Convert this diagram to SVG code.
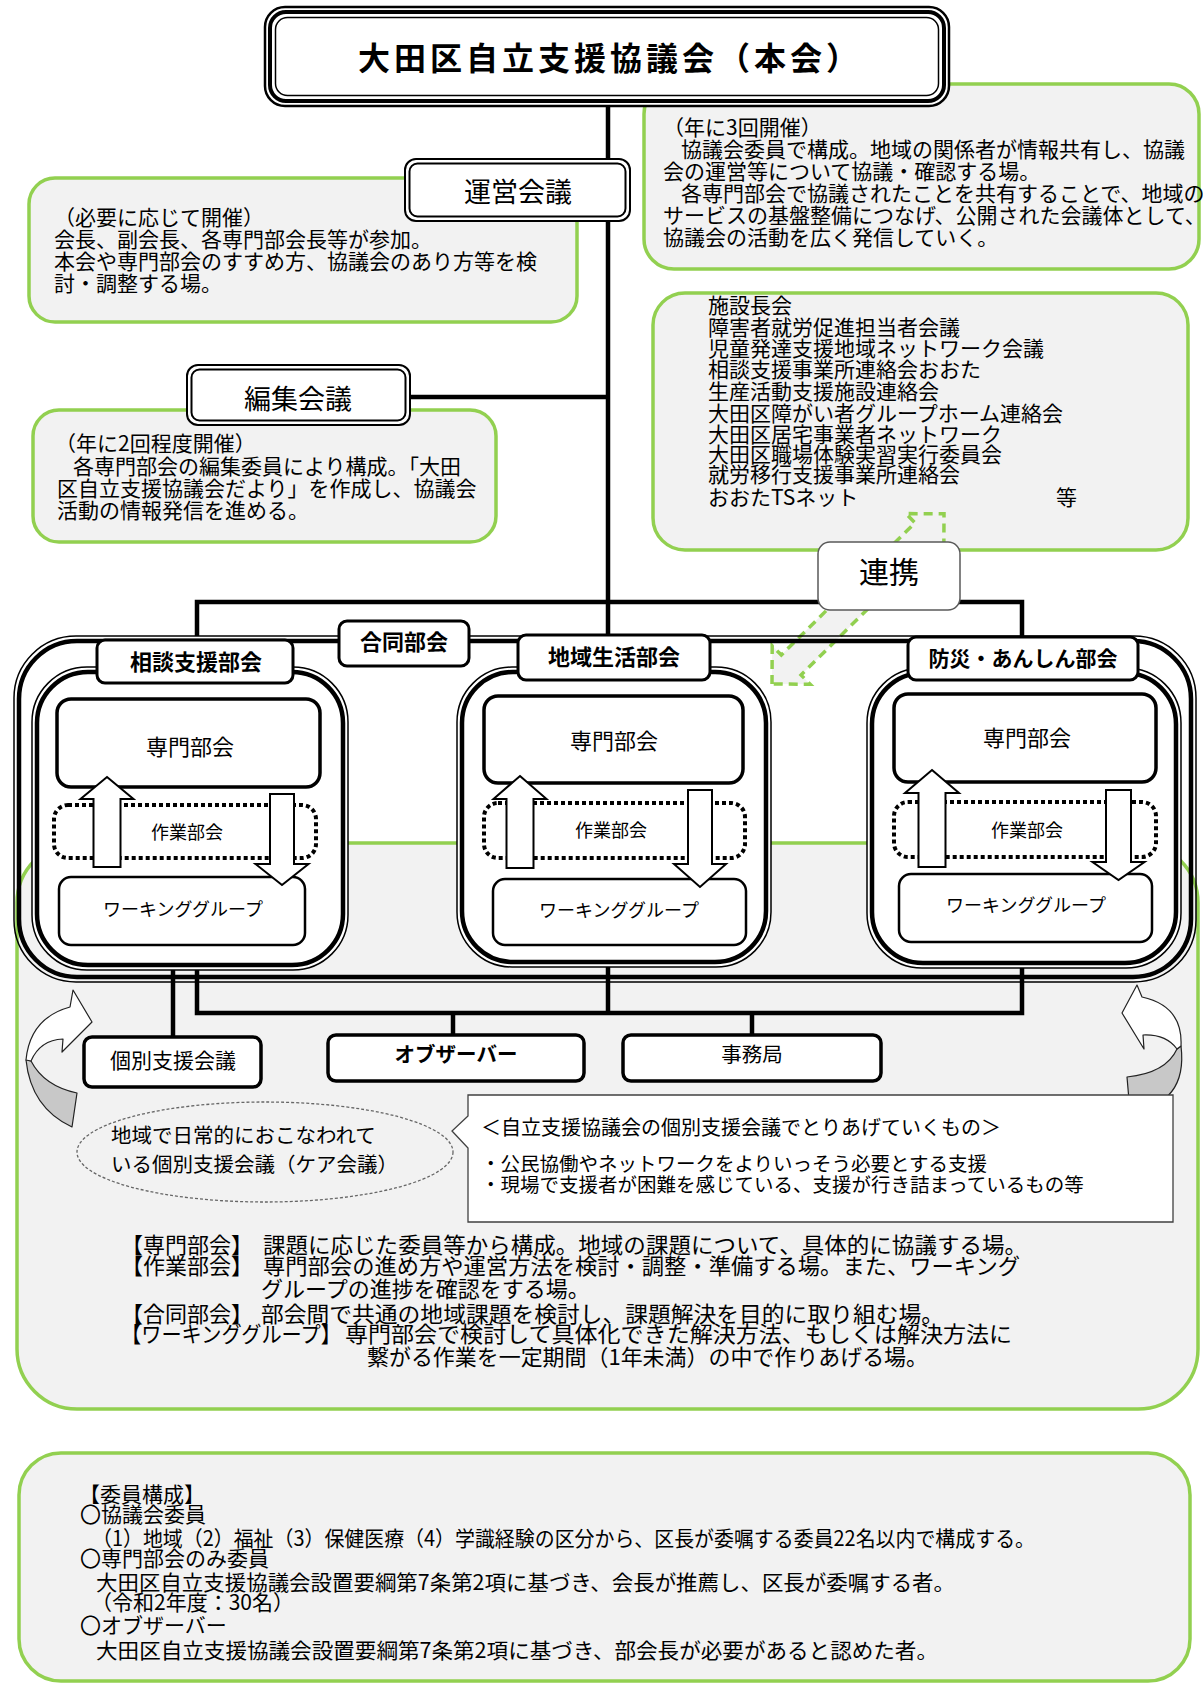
<svg xmlns="http://www.w3.org/2000/svg" width="1203" height="1684" viewBox="0 0 1203 1684">
<style>
.g{fill:#f2f2f2;stroke:#92d050;stroke-width:3.5}
.t{font-family:"Noto Sans CJK JP","Noto Sans CJK SC",sans-serif;fill:#000}
.b{font-weight:bold}
.m{text-anchor:middle}
.ln{stroke:#000;stroke-width:4.5;fill:none}
.w{fill:#fff;stroke:#000}
.thin{fill:none;stroke:#000;stroke-width:1.5}
.thick{fill:none;stroke:#000;stroke-width:4.5}
.arr{fill:#fff;stroke:#000;stroke-width:2;stroke-linejoin:miter}
.dot{fill:none;stroke:#000;stroke-width:4;stroke-dasharray:4 3}
</style>
<rect width="1203" height="1684" fill="#fff"/>

<!-- background green panels -->
<g id="panel-lower"><rect class="g" x="17" y="843" width="1181" height="566" rx="60"/></g>
<g id="panel-members">
<rect class="g" x="19" y="1453" width="1171" height="228" rx="42"/>
<text class="t" font-size="21" x="79" y="1502">【委員構成】</text>
<text class="t" font-size="21" x="80" y="1522">〇協議会委員</text>
<text class="t" font-size="21" x="92" y="1546" textLength="943" lengthAdjust="spacingAndGlyphs">（1）地域（2）福祉（3）保健医療（4）学識経験の区分から、区長が委嘱する委員22名以内で構成する。</text>
<text class="t" font-size="21" x="80" y="1566">〇専門部会のみ委員</text>
<text class="t" font-size="21" x="96" y="1590" textLength="859" lengthAdjust="spacingAndGlyphs">大田区自立支援協議会設置要綱第7条第2項に基づき、会長が推薦し、区長が委嘱する者。</text>
<text class="t" font-size="21" x="91" y="1610">（令和2年度：30名）</text>
<text class="t" font-size="21" x="80" y="1633">〇オブザーバー</text>
<text class="t" font-size="21" x="96" y="1658" textLength="842" lengthAdjust="spacingAndGlyphs">大田区自立支援協議会設置要綱第7条第2項に基づき、部会長が必要があると認めた者。</text>
</g>

<!-- connectors -->
<g id="connectors">
<path class="ln" d="M608,106 V635"/>
<path class="ln" d="M409,397 H608"/>
<path class="ln" d="M197,636 V602 H1022 V637"/>
<path class="ln" d="M173,968 V1037"/>
<path class="ln" d="M197,968 V1013 H1022 V966"/>
<path class="ln" d="M608,965 V1013"/>
<path class="ln" d="M453,1013 V1035"/>
<path class="ln" d="M752,1013 V1035"/>
</g>

<!-- description boxes -->
<g id="desc-honkai">
<rect class="g" x="644" y="84" width="555" height="185" rx="30"/>
<text class="t" font-size="21" x="663" y="135">（年に3回開催）</text>
<text class="t" font-size="21" x="681" y="157">協議会委員で構成。地域の関係者が情報共有し、協議</text>
<text class="t" font-size="21" x="663" y="179">会の運営等について協議・確認する場。</text>
<text class="t" font-size="21" x="681" y="201">各専門部会で協議されたことを共有することで、地域の</text>
<text class="t" font-size="21" x="663" y="223">サービスの基盤整備につなげ、公開された会議体として、</text>
<text class="t" font-size="21" x="663" y="245">協議会の活動を広く発信していく。</text>
</g>
<g id="desc-unei">
<rect class="g" x="29" y="178" width="548" height="144" rx="26"/>
<text class="t" font-size="21" x="54" y="225">（必要に応じて開催）</text>
<text class="t" font-size="21" x="54" y="247">会長、副会長、各専門部会長等が参加。</text>
<text class="t" font-size="21" x="54" y="269">本会や専門部会のすすめ方、協議会のあり方等を検</text>
<text class="t" font-size="21" x="54" y="291">討・調整する場。</text>
</g>
<g id="desc-henshu">
<rect class="g" x="33" y="410" width="463" height="132" rx="26"/>
<text class="t" font-size="21" x="55" y="451">（年に2回程度開催）</text>
<text class="t" font-size="21" x="73" y="474">各専門部会の編集委員により構成。「大田</text>
<text class="t" font-size="21" x="57" y="496">区自立支援協議会だより」を作成し、協議会</text>
<text class="t" font-size="21" x="57" y="518">活動の情報発信を進める。</text>
</g>
<g id="desc-list">
<rect class="g" x="653" y="293" width="535" height="257" rx="32"/>
<text class="t" font-size="21" x="708" y="313">施設長会</text>
<text class="t" font-size="21" x="708" y="335">障害者就労促進担当者会議</text>
<text class="t" font-size="21" x="708" y="356">児童発達支援地域ネットワーク会議</text>
<text class="t" font-size="21" x="708" y="377">相談支援事業所連絡会おおた</text>
<text class="t" font-size="21" x="708" y="399">生産活動支援施設連絡会</text>
<text class="t" font-size="21" x="708" y="421">大田区障がい者グループホーム連絡会</text>
<text class="t" font-size="21" x="708" y="442">大田区居宅事業者ネットワーク</text>
<text class="t" font-size="21" x="708" y="462">大田区職場体験実習実行委員会</text>
<text class="t" font-size="21" x="708" y="482">就労移行支援事業所連絡会</text>
<text class="t" font-size="21" x="708" y="505">おおたTSネット</text>
<text class="t" font-size="21" x="1056" y="505">等</text>
</g>

<!-- renkei arrow -->
<g id="renkei-arrow" transform="translate(772,684) rotate(-44.7)">
<polygon points="0,0 27,-27 27,-14 215,-14 215,-27 242,0 215,27 215,14 27,14 27,27" fill="#f2f2f2" stroke="#92d050" stroke-width="3.5" stroke-dasharray="9 6"/>
</g>

<!-- title -->
<g id="honkai">
<rect x="265" y="7" width="684" height="99" rx="20" fill="#fff" stroke="#000" stroke-width="2.5"/>
<rect x="270" y="12" width="674" height="89" rx="16" fill="none" stroke="#000" stroke-width="4"/>
<rect x="275.5" y="17.5" width="663" height="78" rx="12" fill="none" stroke="#000" stroke-width="1.5"/>
<text class="t b m" font-size="32" x="608" y="70" textLength="500">大田区自立支援協議会（本会）</text>
</g>
<g id="unei">
<rect x="405" y="159" width="225" height="62" rx="11" fill="#fff" stroke="#000" stroke-width="2"/>
<rect x="409.5" y="163.5" width="216" height="53" rx="8" fill="none" stroke="#000" stroke-width="2"/>
<text class="t m" font-size="27" x="518" y="202">運営会議</text>
</g>
<g id="henshu">
<rect x="187" y="365" width="223" height="60" rx="11" fill="#fff" stroke="#000" stroke-width="2"/>
<rect x="191.5" y="369.5" width="214" height="51" rx="8" fill="none" stroke="#000" stroke-width="2"/>
<text class="t m" font-size="27" x="298" y="409">編集会議</text>
</g>
<g id="renkei">
<rect x="818" y="542" width="142" height="68" rx="12" fill="#fff" stroke="#595959" stroke-width="1.5"/>
<text class="t m" font-size="30" x="889" y="583">連携</text>
</g>

<!-- outer frame -->
<g id="bukai-frame">
<rect class="thin" x="14" y="636" width="1182" height="346" rx="62"/>
<rect class="thick" x="19" y="641" width="1172" height="336" rx="58"/>
</g>

<!-- sections -->
<g id="soudan">
<rect x="32" y="667" width="316" height="303" rx="55" fill="#fff" stroke="#000" stroke-width="1.5"/>
<rect class="thick" x="37" y="672" width="306" height="293" rx="51"/>
<rect class="w" stroke-width="3" x="97" y="640" width="196" height="43" rx="8"/>
<text class="t b m" font-size="22" x="196" y="670">相談支援部会</text>
<rect class="w" stroke-width="3.5" x="57" y="699" width="263" height="88" rx="14"/>
<text class="t m" font-size="22" x="190" y="755">専門部会</text>
<rect class="dot" x="54" y="805" width="262" height="53" rx="14"/>
<text class="t m" font-size="18" x="187" y="839">作業部会</text>
<rect class="w" stroke-width="2.5" x="59" y="877" width="246" height="68" rx="12"/>
<text class="t m" font-size="18" x="183" y="916">ワーキンググループ</text>
<polygon class="arr" points="107,777 133.5,799 120.5,799 120.5,867 93.5,867 93.5,799 80.5,799"/>
<polygon class="arr" points="270,794 294,794 294,864 308.5,864 282,885 255.5,864 270,864"/>
</g>
<g id="chiiki">
<rect x="457" y="667" width="314" height="300" rx="55" fill="#fff" stroke="#000" stroke-width="1.5"/>
<rect class="thick" x="462" y="672" width="304" height="290" rx="51"/>
<rect class="w" stroke-width="3" x="518" y="635" width="192" height="45" rx="8"/>
<text class="t b m" font-size="22" x="614" y="665">地域生活部会</text>
<rect class="w" stroke-width="3.5" x="484" y="696" width="259" height="87" rx="14"/>
<text class="t m" font-size="22" x="614" y="749">専門部会</text>
<rect class="dot" x="484" y="803" width="261" height="55" rx="14"/>
<text class="t m" font-size="18" x="611" y="837">作業部会</text>
<rect class="w" stroke-width="2.5" x="493" y="879" width="253" height="66" rx="12"/>
<text class="t m" font-size="18" x="619" y="917">ワーキンググループ</text>
<polygon class="arr" points="520,776 546.5,799 533.5,799 533.5,868 506.5,868 506.5,799 493.5,799"/>
<polygon class="arr" points="688,790 712,790 712,864 726,864 700,887 674,864 688,864"/>
</g>
<g id="bousai">
<rect x="867" y="668" width="314" height="300" rx="55" fill="#fff" stroke="#000" stroke-width="1.5"/>
<rect class="thick" x="872" y="673" width="304" height="290" rx="51"/>
<rect class="w" stroke-width="3" x="908" y="637" width="230" height="43" rx="8"/>
<text class="t b m" font-size="21" x="1023" y="666">防災・あんしん部会</text>
<rect class="w" stroke-width="3.5" x="894" y="694" width="262" height="88" rx="14"/>
<text class="t m" font-size="22" x="1027" y="746">専門部会</text>
<rect class="dot" x="894" y="802" width="262" height="55" rx="14"/>
<text class="t m" font-size="18" x="1027" y="837">作業部会</text>
<rect class="w" stroke-width="2.5" x="899" y="874" width="253" height="68" rx="12"/>
<text class="t m" font-size="18" x="1026" y="912">ワーキンググループ</text>
<polygon class="arr" points="932,770 959,793 945.5,793 945.5,867 918.5,867 918.5,793 905,793"/>
<polygon class="arr" points="1106,790 1131,790 1131,862 1144.5,862 1118.5,880 1092.5,862 1106,862"/>
</g>
<g id="goudou">
<rect class="w" stroke-width="3" x="339" y="621" width="130" height="45" rx="8"/>
<text class="t b m" font-size="22" x="404" y="650">合同部会</text>
</g>

<!-- lower nodes -->
<g id="kobetsu">
<rect class="w" stroke-width="3.5" x="84" y="1037" width="177" height="50" rx="8"/>
<text class="t m" font-size="21" x="173" y="1068">個別支援会議</text>
</g>
<g id="observer">
<rect class="w" stroke-width="3.5" x="328" y="1035" width="256" height="46" rx="8"/>
<text class="t b m" font-size="20.5" x="456" y="1062">オブザーバー</text>
</g>
<g id="jimukyoku">
<rect class="w" stroke-width="3.5" x="623" y="1035" width="258" height="46" rx="8"/>
<text class="t m" font-size="20.5" x="752" y="1062">事務局</text>
</g>

<!-- curved arrows -->
<g id="loop-left" stroke="#222" stroke-width="1.2" stroke-linejoin="round">
<path d="M26,1060 Q31,1108 72,1127 L77,1093 Q44,1086 31,1061 Z" fill="#c8c8c8"/>
<path d="M26,1060 Q30,1018 70,1007 L73,990 L92,1022 L62,1052 L63,1039 Q40,1040 31,1061 Z" fill="#fff"/>
</g>
<g id="loop-right" stroke="#222" stroke-width="1.2" stroke-linejoin="round">
<path d="M1181,1046 Q1188,1104 1130,1112 L1127,1077 Q1166,1073 1177,1049 Z" fill="#c8c8c8"/>
<path d="M1137,985 L1122,1013 L1144,1049 L1143,1035 Q1166,1034 1177,1049 L1181,1046 Q1183,1006 1142,997 Z" fill="#fff"/>
</g>

<!-- care meeting ellipse and callout -->
<g id="care-kaigi">
<ellipse cx="265" cy="1152" rx="188" ry="50" fill="#f2f2f2" stroke="#666" stroke-width="1.3" stroke-dasharray="3 2"/>
<text class="t" font-size="20.5" x="111" y="1143">地域で日常的におこなわれて</text>
<text class="t" font-size="20.5" x="111" y="1172">いる個別支援会議（ケア会議）</text>
</g>
<g id="callout">
<path d="M468,1095 H1173 V1222 H468 V1148 L452,1131 L468,1116 Z" fill="#fff" stroke="#404040" stroke-width="1.3"/>
<text class="t" font-size="20" x="481" y="1135">＜自立支援協議会の個別支援会議でとりあげていくもの＞</text>
<text class="t" font-size="19.5" x="481" y="1171">・公民協働やネットワークをよりいっそう必要とする支援</text>
<text class="t" font-size="19.5" x="481" y="1192">・現場で支援者が困難を感じている、支援が行き詰まっているもの等</text>
</g>

<!-- explanation text -->
<g id="explanation">
<text class="t" font-size="22" x="121" y="1253">【専門部会】</text>
<text class="t" font-size="22" x="263" y="1253" textLength="764" lengthAdjust="spacingAndGlyphs">課題に応じた委員等から構成。地域の課題について、具体的に協議する場。</text>
<text class="t" font-size="22" x="121" y="1274">【作業部会】</text>
<text class="t" font-size="22" x="263" y="1274" textLength="757" lengthAdjust="spacingAndGlyphs">専門部会の進め方や運営方法を検討・調整・準備する場。また、ワーキング</text>
<text class="t" font-size="22" x="261" y="1297">グループの進捗を確認をする場。</text>
<text class="t" font-size="22" x="121" y="1322">【合同部会】</text>
<text class="t" font-size="22" x="261" y="1322" textLength="683" lengthAdjust="spacingAndGlyphs">部会間で共通の地域課題を検討し、課題解決を目的に取り組む場。</text>
<text class="t" font-size="22" x="121" y="1342" textLength="220" lengthAdjust="spacingAndGlyphs">【ワーキンググループ】</text>
<text class="t" font-size="22" x="345" y="1342" textLength="667" lengthAdjust="spacingAndGlyphs">専門部会で検討して具体化できた解決方法、もしくは解決方法に</text>
<text class="t" font-size="22" x="367" y="1365" textLength="561" lengthAdjust="spacingAndGlyphs">繋がる作業を一定期間（1年未満）の中で作りあげる場。</text>
</g>
</svg>
